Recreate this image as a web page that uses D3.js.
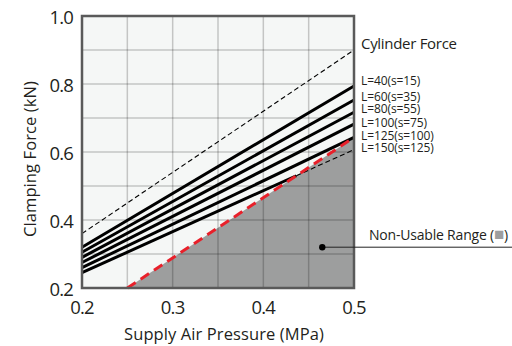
<!DOCTYPE html>
<html>
<head>
<meta charset="utf-8">
<script src="https://cdn.jsdelivr.net/npm/d3@7"></script>
<style>
  body { margin: 0; background: #fff; }
  text { font-family: "Open Sans", sans-serif; fill: #231f20; }
</style>
</head>
<body>
<div id="container"></div>
<script>
// chart data
var pressure = [0.2, 0.5];
var cylinderForce = [0.36, 0.9];
var strokeLabels = ["L=40(s=15)", "L=60(s=35)", "L=80(s=55)", "L=100(s=75)", "L=125(s=100)", "L=150(s=125)"];
var forceAtLow = [0.32, 0.305, 0.29, 0.275, 0.26, 0.245];
var forceAtHigh = [0.794, 0.753, 0.717, 0.682, 0.643, 0.607];
var limitPressure = [0.25, 0.5];
var limitForce = [0.2, 0.643];
var xTicks = [0.2, 0.3, 0.4, 0.5];
var yTicks = [0.2, 0.4, 0.6, 0.8, 1.0];
var markerPoint = [0.465, 0.32];

var W = 512, H = 346;
var pl = 82, pr = 354, pt = 16, pb = 288;

var svg = d3.select("#container").append("svg")
    .attr("width", W).attr("height", H);

var x = d3.scaleLinear().domain([0.2, 0.5]).range([pl, pr]);
var y = d3.scaleLinear().domain([0.2, 1.0]).range([pb, pt]);

svg.append("rect")
    .attr("x", pl).attr("y", pt)
    .attr("width", pr - pl).attr("height", pb - pt)
    .attr("fill", "#f5f7f6");

// non usable range
var area = [[limitPressure[0], limitForce[0]], [limitPressure[1], limitForce[1]], [limitPressure[1], 0.2]];
svg.append("path")
    .attr("d", d3.line().x(d => x(d[0])).y(d => y(d[1]))(area) + "Z")
    .attr("fill", "#9d9e9e");

// grid
var grid = svg.append("g").attr("stroke", "rgba(0,0,0,0.2)").attr("stroke-width", 1.5);
d3.range(0.25, 0.499, 0.05).forEach(function(v) {
    grid.append("line").attr("x1", x(v)).attr("x2", x(v)).attr("y1", pt).attr("y2", pb);
});
d3.range(0.3, 0.999, 0.1).forEach(function(v) {
    grid.append("line").attr("x1", pl).attr("x2", pr).attr("y1", y(v)).attr("y2", y(v));
});

var line = d3.line().x(d => x(d[0])).y(d => y(d[1]));

// cylinder force
svg.append("path")
    .attr("d", line([[pressure[0], cylinderForce[0]], [pressure[1], cylinderForce[1]]]))
    .attr("stroke", "#000").attr("stroke-width", 1.1)
    .attr("stroke-dasharray", "5,3").attr("fill", "none");

// limit line slope for clipping
var ls = (limitForce[1] - limitForce[0]) / (limitPressure[1] - limitPressure[0]);

strokeLabels.forEach(function(lab, i) {
    var s = (forceAtHigh[i] - forceAtLow[i]) / (pressure[1] - pressure[0]);
    // crossing with the limit line
    var px = (forceAtLow[i] - s * pressure[0] - limitForce[0] + ls * limitPressure[0]) / (ls - s);
    if (px < pressure[1] - 0.005) {
        var py = forceAtLow[i] + s * (px - pressure[0]);
        svg.append("path")
            .attr("d", line([[pressure[0], forceAtLow[i]], [px, py]]))
            .attr("stroke", "#000").attr("stroke-width", 3).attr("fill", "none");
        svg.append("path")
            .attr("d", line([[px, py], [pressure[1], forceAtHigh[i]]]))
            .attr("stroke", "#000").attr("stroke-width", 1.1)
            .attr("stroke-dasharray", "5,3").attr("fill", "none");
    } else {
        svg.append("path")
            .attr("d", line([[pressure[0], forceAtLow[i]], [pressure[1], forceAtHigh[i]]]))
            .attr("stroke", "#000").attr("stroke-width", 3).attr("fill", "none");
    }
});

// red limit
svg.append("path")
    .attr("d", line([[limitPressure[0], limitForce[0]], [limitPressure[1], limitForce[1]]]))
    .attr("stroke", "#e8202a").attr("stroke-width", 3)
    .attr("stroke-dasharray", "10,6").attr("fill", "none");

// frame
svg.append("rect")
    .attr("x", pl).attr("y", pt)
    .attr("width", pr - pl).attr("height", pb - pt)
    .attr("fill", "none").attr("stroke", "#5a5a5a").attr("stroke-width", 2.5);

// tick labels
svg.selectAll(".ytick").data(yTicks).enter().append("text")
    .attr("x", pl - 9).attr("y", d => y(d) + 8)
    .attr("text-anchor", "end").attr("font-size", 18.5)
    .attr("letter-spacing", -0.8)
    .text(d => d.toFixed(1));
svg.selectAll(".xtick").data(xTicks).enter().append("text")
    .attr("x", d => x(d)).attr("y", 314)
    .attr("text-anchor", "middle").attr("font-size", 18.5)
    .attr("letter-spacing", -0.8)
    .text(d => d.toFixed(1));

svg.append("text")
    .attr("x", 224).attr("y", 340)
    .attr("text-anchor", "middle").attr("font-size", 16.5)
    .attr("letter-spacing", 0.1)
    .text("Supply Air Pressure (MPa)");
svg.append("text")
    .attr("transform", "translate(36,159) rotate(-90)")
    .attr("text-anchor", "middle").attr("font-size", 16.5)
    .attr("letter-spacing", 0.1)
    .text("Clamping Force (kN)");

// series labels
svg.append("text")
    .attr("x", 361).attr("y", 49).attr("font-size", 15)
    .attr("letter-spacing", -0.3)
    .text("Cylinder Force");
var labY = [81, 96.3, 108.7, 122.3, 136, 147.7];
strokeLabels.forEach(function(lab, i) {
    svg.append("text")
        .attr("x", 361).attr("y", labY[i] + 4.2)
        .attr("font-size", 12).attr("letter-spacing", -0.1)
        .text(lab);
});

// non usable marker
svg.append("line")
    .attr("x1", x(markerPoint[0])).attr("y1", y(markerPoint[1]))
    .attr("x2", 512).attr("y2", y(markerPoint[1]))
    .attr("stroke", "#222").attr("stroke-width", 1);
svg.append("circle")
    .attr("cx", x(markerPoint[0])).attr("cy", y(markerPoint[1]))
    .attr("r", 3.2).attr("fill", "#000");
var nt = svg.append("text")
    .attr("x", 369).attr("y", 240).attr("font-size", 14)
    .attr("letter-spacing", -0.2);
nt.append("tspan").text("Non-Usable Range (");
nt.append("tspan").text("■").style("fill", "#9d9e9e").attr("font-size", 17);
nt.append("tspan").text(")");
</script>
</body>
</html>
